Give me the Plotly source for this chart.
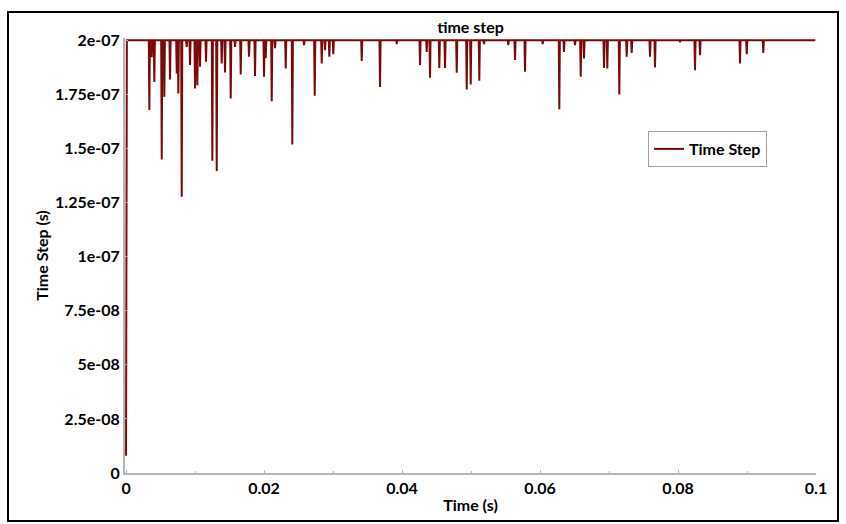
import plotly.graph_objects as go

# ---- data ----
start_times = [0.0, 0.00012]
start_values = [8e-9, 2e-7]
baseline = 2e-7
end_time = 0.0999

spike_times = [
    0.003377, 0.003725, 0.004101, 0.005174, 0.005551, 0.006377, 0.007348, 0.007580,
    0.008072, 0.008797, 0.009275, 0.010000, 0.010333, 0.010725, 0.011594, 0.012507,
    0.013145, 0.013870, 0.014348, 0.015174, 0.015797, 0.016623, 0.017826, 0.018696,
    0.020000, 0.020246, 0.021116, 0.021594, 0.023145, 0.024101, 0.025797, 0.027348,
    0.028362, 0.028841, 0.029464, 0.030043, 0.034159, 0.036812, 0.039232, 0.042609,
    0.043580, 0.044058, 0.045406, 0.046232, 0.047928, 0.049377, 0.049957, 0.051203,
    0.051884, 0.055406, 0.056377, 0.057826, 0.060391, 0.062797, 0.063478, 0.065072,
    0.065899, 0.066377, 0.069275, 0.069754, 0.071493, 0.072565, 0.073290, 0.075942,
    0.076667, 0.080290, 0.082464, 0.083188, 0.088986, 0.089957, 0.092362,
]
spike_values = [
    1.677e-7, 1.921e-7, 1.807e-7, 1.449e-7, 1.738e-7, 1.818e-7, 1.846e-7, 1.754e-7,
    1.276e-7, 1.969e-7, 1.885e-7, 1.777e-7, 1.792e-7, 1.877e-7, 1.900e-7, 1.443e-7,
    1.396e-7, 1.892e-7, 1.851e-7, 1.731e-7, 1.969e-7, 1.842e-7, 1.923e-7, 1.835e-7,
    1.831e-7, 1.917e-7, 1.718e-7, 1.963e-7, 1.869e-7, 1.518e-7, 1.977e-7, 1.743e-7,
    1.892e-7, 1.954e-7, 1.923e-7, 1.935e-7, 1.904e-7, 1.784e-7, 1.982e-7, 1.885e-7,
    1.946e-7, 1.826e-7, 1.872e-7, 1.872e-7, 1.849e-7, 1.772e-7, 1.795e-7, 1.812e-7,
    1.982e-7, 1.977e-7, 1.908e-7, 1.854e-7, 1.982e-7, 1.681e-7, 1.946e-7, 1.977e-7,
    1.831e-7, 1.915e-7, 1.872e-7, 1.869e-7, 1.749e-7, 1.923e-7, 1.941e-7, 1.923e-7,
    1.874e-7, 1.991e-7, 1.861e-7, 1.931e-7, 1.892e-7, 1.935e-7, 1.941e-7,
]

x_tickvals = [0, 0.02, 0.04, 0.06, 0.08, 0.1]
x_ticktext = ["0", "0.02", "0.04", "0.06", "0.08", "0.1"]
y_tickvals = [0, 2.5e-8, 5e-8, 7.5e-8, 1e-7, 1.25e-7, 1.5e-7, 1.75e-7, 2e-7]
y_ticktext = ["0", "2.5e-08", "5e-08", "7.5e-08", "1e-07", "1.25e-07", "1.5e-07", "1.75e-07", "2e-07"]

# ---- build the line: flat at baseline with a dip at each spike ----
half = 0.00008
xs = list(start_times)
ys = list(start_values)
for t, v in zip(spike_times, spike_values):
    xs += [t - half, t, t + half]
    ys += [baseline, v, baseline]
xs.append(end_time)
ys.append(baseline)

RED = "#7a0a0a"
FONT = "Lato"
FS = 16
AX = "#b4b4b4"

fig = go.Figure()
fig.add_trace(go.Scatter(x=xs, y=ys, mode="lines", name="Time Step",
                         line=dict(color=RED, width=2)))

fig.update_layout(
    width=846, height=524,
    margin=dict(l=125, r=30, t=38, b=51),
    paper_bgcolor="white", plot_bgcolor="white",
    font=dict(family=FONT, size=FS, color="black", weight="bold"),
    title=dict(text="time step", x=0.5, xref="paper", xanchor="center",
               y=1 - 27 / 524, yanchor="middle",
               font=dict(family=FONT, size=FS, color="black", weight="bold")),
    showlegend=True,
    legend=dict(x=(648 - 125) / 691, xanchor="left", y=(473 - 131) / 435, yanchor="top",
                bordercolor="#a0a0a0", borderwidth=1, bgcolor="white",
                tracegroupgap=0, itemwidth=30,
                font=dict(family=FONT, size=FS, color="black", weight="bold")),
    xaxis=dict(range=[-0.00015, 0.1], showgrid=False, zeroline=False,
               showline=True, linecolor=AX, linewidth=2,
               tickvals=x_tickvals, ticktext=x_ticktext,
               ticks="inside", ticklen=3, tickcolor=AX, tickwidth=1,
               minor=dict(dtick=0.01, ticks="inside", ticklen=2, tickcolor=AX),
               tickfont=dict(family=FONT, size=FS, weight="bold"),
               title=dict(text="Time (s)", standoff=4,
                          font=dict(family=FONT, size=FS, weight="bold"))),
    yaxis=dict(range=[0, 2.01e-7], showgrid=False, zeroline=False,
               showline=True, linecolor=AX, linewidth=2,
               tickvals=y_tickvals, ticktext=y_ticktext,
               ticks="inside", ticklen=3, tickcolor=AX, tickwidth=1,
               tickfont=dict(family=FONT, size=FS, weight="bold"),
               title=dict(text="Time Step (s)", standoff=2,
                          font=dict(family=FONT, size=FS, weight="bold"))),
)

# outer black frame
fig.add_shape(type="rect", xref="paper", yref="paper",
              x0=(8 - 125) / 691, x1=(838 - 125) / 691,
              y0=(473 - 521) / 435, y1=(473 - 12) / 435,
              line=dict(color="black", width=2), fillcolor="rgba(0,0,0,0)", layer="below")

fig.write_html("out.html", config={"displayModeBar": False},
               post_script="document.body.style.margin='0';")
